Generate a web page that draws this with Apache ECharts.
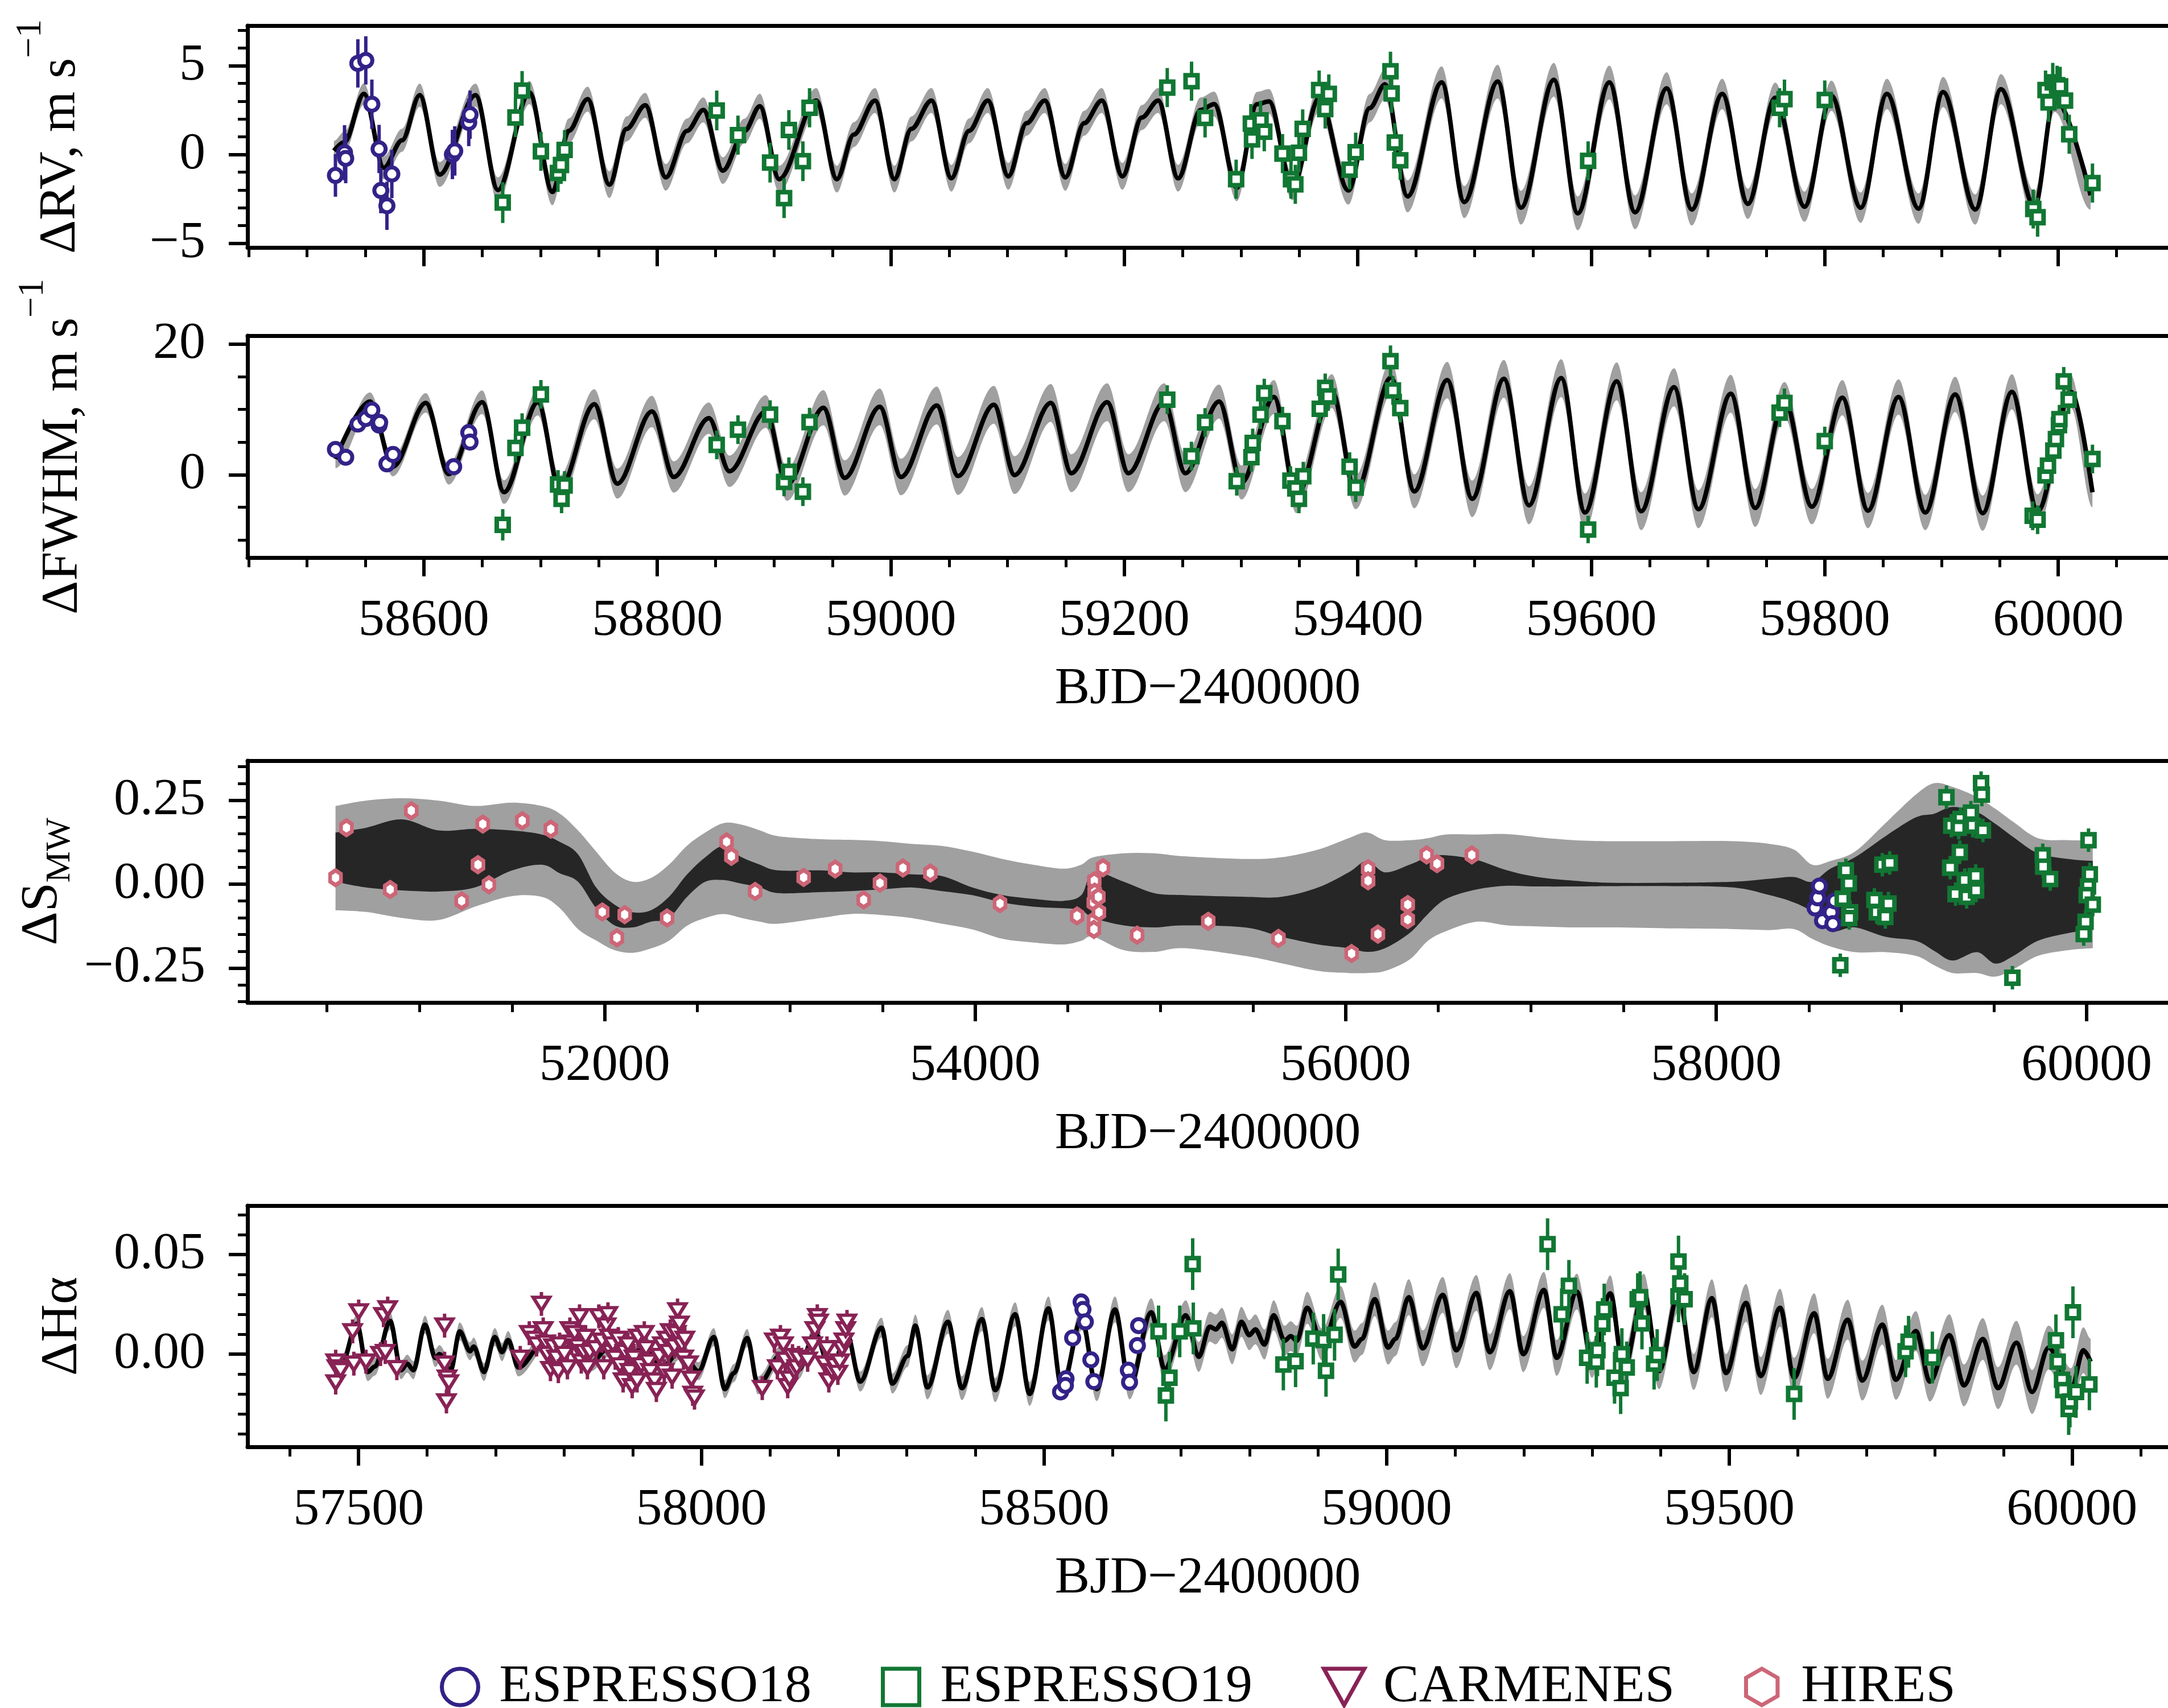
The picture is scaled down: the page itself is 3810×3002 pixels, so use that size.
<!DOCTYPE html>
<html>
<head>
<meta charset="utf-8">
<script src="https://cdn.jsdelivr.net/npm/echarts@6/dist/echarts.min.js"></script>
<style>
html, body { margin: 0; padding: 0; background: #fff; }
#chart { width: 3810px; height: 3002px; }
</style>
</head>
<body>
<div id="chart"></div>
<script>
// ---------- values ----------
// model curves: [BJD-2400000, mean, 1-sigma width of the grey band]
const rvModel = [[58523,0.21,0.55],[58532,0.69,0.6],[58548.7,3.41,0.6],[58565.8,-0.75,0.65],[58581.4,0.8,0.65],[58596.5,3.34,0.65],[58613.6,-1.13,0.7],[58644.3,3.34,0.65],[58663.5,-2.0,0.7],[58690.5,3.49,0.65],[58710.2,-2.11,0.75],[58724.2,1.33,0.7],[58740.3,3.12,0.7],[58759,-1.7,0.75],[58773.6,1.44,0.7],[58789.7,2.77,0.7],[58807.3,-1.29,0.75],[58825.5,1.33,0.7],[58839.5,2.51,0.7],[58856.1,-0.91,0.75],[58874.8,1.33,0.7],[58887.8,2.72,0.7],[58904.4,-1.39,0.75],[58936.1,3.04,0.7],[58953.8,-1.39,0.75],[58968.3,1.12,0.7],[58986.5,3.04,0.7],[59003.1,-1.39,0.75],[59017.6,1.44,0.7],[59034.8,3.04,0.7],[59051.9,-1.34,0.75],[59067,1.33,0.7],[59083.1,3.04,0.7],[59100.7,-1.23,0.75],[59116.3,1.76,0.7],[59131.9,3.04,0.7],[59149.5,-1.29,0.75],[59165.6,1.76,0.7],[59180.7,3.04,0.7],[59198.4,-1.23,0.75],[59215,2.08,0.7],[59229,3.04,0.7],[59246.1,-1.34,0.75],[59265.5,2.51,0.7],[59277,2.84,0.7],[59296.4,-1.88,0.75],[59313.6,2.83,0.7],[59324,2.99,0.7],[59343.9,-1.82,0.75],[59366.9,3.17,0.75],[59392,-2.03,0.8],[59410.2,2.61,0.8],[59423.3,3.95,0.85],[59442.6,-2.36,0.9],[59471.9,4.06,0.9],[59491.2,-2.68,0.9],[59519.9,4.11,0.95],[59539.8,-3.0,0.95],[59568,4.21,0.95],[59588.4,-3.32,0.95],[59615.5,4.06,0.95],[59637.5,-3.26,0.95],[59664.6,3.73,0.9],[59686.1,-3.1,0.9],[59712.2,3.41,0.85],[59734.1,-2.78,0.85],[59757.6,3.2,0.85],[59782.7,-2.94,0.85],[59805.7,3.31,0.85],[59830.8,-3.0,0.85],[59853.2,3.41,0.85],[59880.4,-3.05,0.85],[59901.3,3.52,0.85],[59929,-3.1,0.85],[59950.9,3.68,0.85],[59979.7,-2.94,0.85],[59996.9,3.2,0.8],[60027.7,-2.3,0.8]];

const fwModel = [[58524.3,2.4,1.4],[58553.9,11.2,1.4],[58573.6,1.25,1.5],[58601.7,11.0,1.5],[58621.4,0.09,1.6],[58650,11.1,1.8],[58668.7,-2.67,1.8],[58697.7,11.1,2.0],[58716.4,-2.24,2.1],[58746,10.8,2.3],[58765.8,-1.37,2.3],[58795.4,9.68,2.4],[58814.1,-0.35,2.4],[58844.2,8.66,2.4],[58861.8,0.52,2.4],[58893,9.68,2.5],[58911.2,-1.51,2.5],[58942.3,10.26,2.7],[58960.5,-0.49,2.7],[58990.6,10.4,2.8],[59008.8,-0.35,2.8],[59039.4,10.6,2.9],[59057.6,-0.2,2.9],[59088.3,10.7,2.9],[59106,-0.06,2.9],[59137.1,11.0,2.9],[59154.7,0.23,2.9],[59185.4,11.1,2.9],[59203.5,0.23,2.9],[59234.2,11.1,2.9],[59252.3,0.23,2.9],[59281.2,11.2,2.6],[59300.5,-1.2,2.6],[59328.2,11.9,2.6],[59347.5,-3.3,2.6],[59377.8,12.8,2.6],[59398.2,-2.7,2.6],[59428.5,14.9,2.6],[59448.4,-2.56,2.6],[59476.6,14.5,2.8],[59498,-3.7,2.8],[59525.2,14.7,2.9],[59546.6,-4.7,2.9],[59574.3,14.8,2.9],[59594.6,-5.8,2.9],[59621.8,14.3,2.9],[59642.7,-5.6,2.9],[59670.9,13.4,2.9],[59691.8,-5.3,2.9],[59719.5,12.4,2.9],[59740.4,-5.1,2.9],[59765.5,11.5,2.7],[59789,-4.9,2.7],[59815.1,11.8,2.7],[59837,-5.5,2.7],[59863.2,11.9,2.7],[59886.1,-5.8,2.7],[59911.7,12.3,2.7],[59935.3,-5.9,2.7],[59960.3,12.7,2.7],[59982.3,-5.6,2.6],[60011,12.7,2.5],[60029.3,-2.7,2.3]];

const haModel = [[57465,-0.0038,0.0045],[57475,-0.0057,0.0045],[57497.5,0.0152,0.0045],[57513.4,-0.009,0.0045],[57524,-0.0062,0.0045],[57546,0.0167,0.0045],[57562,-0.0081,0.0045],[57571,-0.0048,0.0045],[57580,-0.0081,0.0045],[57597,0.0148,0.0045],[57612,-0.002,0.0045],[57618,0.0,0.0045],[57634.4,-0.0081,0.0045],[57647.6,0.0114,0.0045],[57662.6,0.0014,0.0045],[57668,0.0038,0.0045],[57683,-0.009,0.0045],[57698.8,0.0086,0.0045],[57709.4,0.001,0.0045],[57718.2,0.0071,0.0045],[57733.2,-0.0067,0.0045],[57772,0.0067,0.0045],[57793,-0.0019,0.0045],[57815,0.0067,0.0045],[57840,-0.004,0.0045],[57864,0.003,0.0045],[57890,-0.0057,0.0045],[57917,0.0048,0.0045],[57943,-0.0067,0.0045],[57970,0.002,0.0045],[57996,-0.0086,0.0045],[58018.4,0.0086,0.0045],[58034.3,-0.0176,0.0045],[58047.5,-0.0095,0.0045],[58067,0.0081,0.0045],[58082.8,-0.0157,0.0045],[58117,0.0,0.0045],[58142,-0.008,0.0045],[58166,0.0105,0.0045],[58190,-0.009,0.0045],[58212,0.011,0.0045],[58232,-0.0138,0.005],[58263,0.0133,0.005],[58278.8,-0.0148,0.005],[58301,-0.001,0.0055],[58312.3,0.0143,0.0055],[58330,-0.0167,0.006],[58360,0.0162,0.006],[58380.3,-0.0171,0.006],[58409.5,0.0176,0.006],[58428.9,-0.0181,0.006],[58458,0.02,0.006],[58479.2,-0.02,0.006],[58506.6,0.0229,0.006],[58526,-0.0171,0.006],[58555,0.018,0.006],[58577.2,-0.0176,0.006],[58603.7,0.0224,0.0065],[58625,-0.0162,0.0065],[58656.6,0.021,0.007],[58676,-0.0076,0.007],[58707,0.0195,0.0075],[58725.9,-0.0014,0.0075],[58741.9,0.0138,0.0075],[58750.8,0.0124,0.0075],[58759.6,0.0157,0.0075],[58774.7,0.0024,0.0075],[58788,0.0162,0.0075],[58799.6,0.0095,0.0075],[58808.5,0.0124,0.0075],[58821.8,0.0048,0.0075],[58835.1,0.0195,0.0075],[58851.1,0.0067,0.0075],[58860,0.009,0.0075],[58868.9,0.0067,0.0075],[58884,0.0233,0.008],[58906,0.0048,0.008],[58932.8,0.0262,0.008],[58953.3,0.0038,0.008],[58964,0.0076,0.008],[58982.6,0.0276,0.0085],[59002.1,0.0033,0.0085],[59012.8,0.0076,0.0085],[59032.3,0.0286,0.009],[59052.7,0.0029,0.009],[59082,0.0297,0.009],[59101.6,0.0019,0.009],[59130.9,0.0307,0.009],[59150.4,0.001,0.009],[59179.8,0.0316,0.009],[59199.3,0.0,0.009],[59229.5,0.0322,0.009],[59248.1,-0.0019,0.009],[59277.5,0.0314,0.009],[59299.6,-0.0029,0.009],[59326.3,0.0305,0.009],[59345.8,-0.0076,0.009],[59375.2,0.0314,0.009],[59397.4,-0.0086,0.009],[59425.8,0.0305,0.009],[59448,-0.009,0.009],[59474.6,0.0281,0.0095],[59495.1,-0.0095,0.0095],[59524.4,0.0257,0.0095],[59545.7,-0.011,0.0095],[59574.1,0.0233,0.0095],[59594.5,-0.0119,0.01],[59623.9,0.0205,0.01],[59643.4,-0.0124,0.01],[59672.7,0.0173,0.01],[59694,-0.0133,0.01],[59723.3,0.0148,0.01],[59742.9,-0.0129,0.01],[59772.2,0.0116,0.01],[59792.6,-0.0138,0.01],[59821,0.0095,0.0105],[59842.3,-0.0157,0.0105],[59869.9,0.0076,0.0105],[59892.1,-0.0171,0.0105],[59918.8,0.0057,0.011],[59941.8,-0.019,0.011],[59965.8,0.0033,0.011],[59998.6,-0.0181,0.011],[60016.5,0.0019,0.0115],[60027.1,-0.0038,0.0115]];

// S_MW model is a dense oscillation: envelopes [BJD, greyLow, greyHigh, blackLow, blackHigh]
const smwEnv = [[50547,-0.078,0.233,0.007,0.154],[50711,-0.083,0.249,-0.01,0.168],[50907,-0.101,0.256,-0.019,0.193],[51103,-0.107,0.249,-0.022,0.16],[51300,-0.067,0.233,-0.01,0.165],[51496,-0.036,0.243,0.04,0.16],[51660,-0.038,0.233,0.058,0.148],[51758,-0.072,0.21,0.032,0.126],[51856,-0.134,0.16,0.007,0.089],[51954,-0.168,0.097,-0.072,-0.01],[52053,-0.197,0.035,-0.123,-0.061],[52151,-0.205,0.007,-0.129,-0.084],[52249,-0.192,0.018,-0.112,-0.078],[52347,-0.169,0.058,-0.101,-0.038],[52445,-0.124,0.115,-0.038,0.029],[52543,-0.101,0.154,0.007,0.08],[52642,-0.089,0.182,0.012,0.114],[52740,-0.101,0.177,0.001,0.08],[52838,-0.112,0.16,-0.01,0.058],[52936,-0.118,0.143,-0.027,0.041],[53165,-0.101,0.134,-0.024,0.041],[53329,-0.089,0.132,-0.021,0.035],[53493,-0.092,0.128,-0.016,0.035],[53656,-0.101,0.12,-0.01,0.029],[53820,-0.118,0.114,-0.021,0.024],[53984,-0.135,0.097,-0.033,-0.01],[54147,-0.163,0.075,-0.055,-0.033],[54311,-0.174,0.058,-0.067,-0.044],[54475,-0.18,0.046,-0.072,-0.05],[54573,-0.169,0.058,-0.078,-0.033],[54638,-0.157,0.08,-0.101,0.035],[54802,-0.197,0.092,-0.123,0.007],[54966,-0.202,0.092,-0.129,-0.027],[55129,-0.191,0.083,-0.123,-0.033],[55456,-0.214,0.075,-0.129,-0.038],[55653,-0.236,0.08,-0.157,-0.038],[55851,-0.259,0.103,-0.18,-0.01],[56016,-0.265,0.137,-0.191,0.035],[56115,-0.265,0.154,-0.202,0.069],[56213,-0.259,0.131,-0.191,0.035],[56345,-0.225,0.131,-0.146,0.058],[56444,-0.169,0.137,-0.089,0.08],[56543,-0.14,0.148,-0.044,0.086],[56707,-0.112,0.148,-0.016,0.072],[56872,-0.123,0.149,-0.005,0.041],[57036,-0.126,0.14,-0.007,0.021],[57234,-0.129,0.131,-0.007,0.01],[57432,-0.129,0.128,-0.006,0.004],[57761,-0.132,0.128,-0.006,0.004],[58090,-0.134,0.128,-0.01,0.007],[58288,-0.137,0.12,-0.033,0.016],[58420,-0.134,0.103,-0.055,0.021],[58518,-0.163,0.058,-0.084,0.007],[58617,-0.186,0.069,-0.14,0.046],[58749,-0.203,0.097,-0.129,0.08],[58914,-0.203,0.182,-0.157,0.143],[59078,-0.214,0.267,-0.169,0.199],[59177,-0.242,0.301,-0.199,0.21],[59276,-0.265,0.29,-0.228,0.23],[59407,-0.265,0.26,-0.203,0.215],[59506,-0.276,0.225,-0.237,0.18],[59605,-0.254,0.185,-0.214,0.14],[59737,-0.214,0.137,-0.169,0.092],[59901,-0.197,0.131,-0.146,0.075],[60033,-0.191,0.131,-0.135,0.069]];

// observations: [BJD-2400000, value, error]
const rvE18 = [[58524.3,-1.18,1.2],[58532.1,0.1,1.55],[58533.1,-0.22,1.4],[58543.5,5.13,1.36],[58550.3,5.3,1.36],[58555.5,2.83,1.39],[58561.7,0.31,1.36],[58563.2,-2.03,1.28],[58568.4,-2.89,1.36],[58572.6,-1.1,1.36],[58624.5,0.0,1.39],[58626.5,0.2,1.39],[58638.5,1.81,1.34],[58639.6,2.24,1.36]];
const rvE19 = [[58667.6,-2.71,1.15],[58678.5,2.08,1.1],[58684.2,3.6,1.1],[58700.3,0.18,1.1],[58714.9,-1.04,1.07],[58717.5,-0.59,1.07],[58720.6,0.26,1.12],[58850.9,2.48,1.12],[58869.1,1.09,1.1],[58896.6,-0.46,1.12],[58908.6,-2.46,1.12],[58912.7,1.38,1.12],[58924.7,-0.38,1.12],[58930.4,2.63,1.1],[59236.8,3.77,1.1],[59257.6,4.13,1.1],[59269.2,2.06,1.1],[59295.8,-1.39,1.1],[59308.4,1.74,1.1],[59309.4,0.85,1.1],[59316.7,1.92,1.1],[59319.9,1.28,1.1],[59335.5,0.05,1.1],[59342.8,-1.39,1.1],[59346.5,-1.68,1.1],[59349.6,0.1,1.1],[59352.8,1.44,1.1],[59366.9,3.63,1.1],[59372.1,2.56,1.1],[59375.2,3.41,1.1],[59393,-0.86,1.1],[59398.2,0.13,1.1],[59428,4.69,1.1],[59429,3.44,1.1],[59431.7,0.67,1.1],[59436.4,-0.33,1.1],[59597.3,-0.36,1.1],[59761.3,2.63,1.1],[59765.5,3.12,1.1],[59800,3.07,1.1],[59978.6,-3.07,1.1],[59982.3,-3.53,1.1],[59989.1,3.63,1.1],[59991.7,2.93,1.1],[59995.3,4.06,1.1],[59999,3.9,1.1],[60001.6,3.84,1.1],[60005.8,3.04,1.1],[60009.4,1.14,1.1],[60029.3,-1.61,1.1]];

const fwE18 = [[58524.3,3.87,1.2],[58533.1,2.67,1.2],[58543.5,7.76,1.2],[58550.3,8.6,1.2],[58555.5,9.9,1.2],[58561.7,7.6,1.2],[58562.2,8.0,1.2],[58568.4,1.66,1.2],[58573.6,3.1,1.2],[58625.6,1.22,1.2],[58638.5,6.45,1.2],[58639.6,5.0,1.2]];
const fwE19 = [[58667.6,-7.68,2.4],[58678.5,4.1,2.2],[58684.2,7.2,2.2],[58700.3,12.3,2.2],[58715,-1.5,2.2],[58718,-3.7,2.2],[58720.6,-1.66,2.2],[58850.9,4.57,2.2],[58869.1,6.9,2.2],[58896.6,9.2,2.2],[58908.6,-1.1,2.2],[58912.7,0.44,2.2],[58924.7,-2.6,2.2],[58930.4,8.05,2.2],[59236.8,11.5,2.2],[59257.5,2.85,2.2],[59269.2,8.0,2.2],[59296.3,-1.0,2.2],[59308.9,2.68,2.2],[59310,4.86,2.2],[59316.7,9.2,2.2],[59319.9,12.5,2.2],[59335.5,8.2,2.2],[59342.3,-0.9,2.2],[59346.5,-2.1,2.2],[59349.6,-3.7,2.2],[59353.3,-0.23,2.2],[59367.4,10.1,2.2],[59372.1,13.3,2.2],[59374.7,12.0,2.2],[59393,1.23,2.2],[59398.2,-1.98,2.2],[59428,17.4,2.4],[59430.1,12.9,2.2],[59436.4,10.2,2.2],[59597.3,-8.4,2.1],[59761.3,9.5,2.2],[59765.5,11.0,2.2],[59800,5.15,2.2],[59978.1,-6.3,2.2],[59982.3,-6.9,2.2],[59989.1,-0.1,2.2],[59991.2,1.37,2.2],[59995.8,3.7,2.2],[59998,5.45,2.2],[60000.6,7.6,2.2],[60001,8.5,2.2],[60004.7,14.3,2.2],[60008.9,11.5,2.2],[60029.3,2.4,2.2]];

const smwHires = [[50547,0.019,0.025],[50606,0.168,0.025],[50842,-0.016,0.025],[50956,0.219,0.025],[51228,-0.05,0.025],[51316,0.058,0.025],[51342,0.179,0.025],[51375,-0.002,0.025],[51555,0.189,0.025],[51709,0.164,0.025],[51987,-0.083,0.025],[52066,-0.16,0.025],[52108,-0.091,0.025],[52337,-0.101,0.025],[52658,0.126,0.025],[52684,0.083,0.025],[52812,-0.022,0.025],[53074,0.02,0.025],[53244,0.045,0.025],[53398,-0.047,0.025],[53486,0.003,0.025],[53610,0.048,0.025],[53758,0.033,0.025],[54134,-0.058,0.025],[54550,-0.095,0.025],[54643,0.01,0.025],[54645,-0.024,0.025],[54640,-0.055,0.025],[54642,-0.109,0.025],[54641,-0.135,0.025],[54668,-0.084,0.025],[54690,0.049,0.025],[54665,-0.038,0.025],[54874,-0.152,0.025],[55258,-0.111,0.025],[55637,-0.162,0.025],[56032,-0.207,0.025],[56121,0.046,0.025],[56121,0.01,0.025],[56174,-0.149,0.025],[56335,-0.061,0.025],[56335,-0.106,0.025],[56437,0.087,0.025],[56493,0.061,0.025],[56681,0.087,0.025]];
const smwE18 = [[58534,-0.071,0.008],[58548,-0.041,0.008],[58557,-0.006,0.008],[58574,-0.109,0.008],[58620,-0.084,0.008],[58630,-0.118,0.008],[58640,-0.05,0.008]];
const smwE19 = [[58670,-0.242,0.035],[58683,-0.044,0.035],[58700,0.041,0.035],[58716,0.002,0.035],[58723,-0.084,0.035],[58718,-0.101,0.035],[58854,-0.047,0.035],[58867,-0.084,0.035],[58897,0.058,0.035],[58913,-0.098,0.035],[58930,-0.058,0.035],[58937,0.063,0.035],[59243,0.259,0.035],[59269,0.174,0.035],[59315,0.095,0.035],[59319,0.194,0.035],[59309,0.168,0.035],[59263,0.049,0.035],[59292,-0.03,0.035],[59342,0.012,0.035],[59352,-0.038,0.035],[59375,0.213,0.035],[59385,0.174,0.035],[59401,0.024,0.035],[59403,-0.019,0.035],[59430,0.301,0.035],[59434,0.267,0.035],[59440,0.16,0.035],[59599,-0.279,0.035],[59763,0.086,0.035],[59765,0.052,0.035],[59803,0.015,0.035],[60010,0.131,0.035],[60017,0.029,0.035],[60007,-0.007,0.035],[60000,-0.033,0.035],[59994,-0.112,0.035],[59984,-0.149,0.035],[60033,-0.061,0.035]];

const haCarm = [[57466.6,-0.0038,0.006],[57468.4,-0.0067,0.006],[57466.6,-0.0143,0.006],[57473.7,-0.0081,0.006],[57491.3,0.0114,0.006],[57493.1,-0.0048,0.006],[57500.2,0.0214,0.006],[57510.8,-0.0038,0.006],[57532,0.0,0.006],[57536.4,0.0195,0.006],[57542.5,0.0229,0.006],[57539,0.001,0.006],[57555.8,-0.0071,0.006],[57625.5,0.0143,0.006],[57625.5,-0.0048,0.006],[57629.1,-0.0119,0.006],[57631.7,-0.0143,0.006],[57628.2,-0.0238,0.006],[57735.9,-0.0019,0.006],[57749.1,0.0105,0.006],[57756.2,0.0076,0.006],[57759.7,0.0048,0.006],[57766.8,0.0252,0.006],[57769.4,0.0124,0.006],[57773,0.0057,0.006],[57775.6,0.0,0.006],[57780,-0.0076,0.006],[57784.4,0.0038,0.006],[57788.8,-0.0019,0.006],[57791.5,-0.0086,0.006],[57793.3,0.0048,0.006],[57800.3,0.0,0.006],[57804.7,-0.0067,0.006],[57808.3,0.0124,0.006],[57810.9,0.0057,0.006],[57815.3,0.0105,0.006],[57819.7,0.0038,0.006],[57822.4,0.019,0.006],[57825,-0.0038,0.006],[57828.6,0.001,0.006],[57831.2,0.0086,0.006],[57833.9,-0.0067,0.006],[57837.4,0.001,0.006],[57846.2,0.0029,0.006],[57850.6,0.019,0.006],[57855.1,0.0067,0.006],[57857.7,-0.0067,0.006],[57861.2,0.0143,0.006],[57863.9,0.02,0.006],[57865.7,0.0086,0.006],[57868.3,0.001,0.006],[57871,0.0048,0.006],[57874.5,-0.0019,0.006],[57878.9,0.0076,0.006],[57881.5,-0.0057,0.006],[57886,-0.0133,0.006],[57888.6,0.001,0.006],[57893,0.0048,0.006],[57895.7,-0.0086,0.006],[57899.2,-0.0162,0.006],[57901.9,-0.0019,0.006],[57906.3,-0.0133,0.006],[57908,0.0086,0.006],[57912.4,-0.0057,0.006],[57916.9,0.0105,0.006],[57919.5,0.0029,0.006],[57923,-0.0038,0.006],[57925.7,-0.0086,0.006],[57931.9,-0.0133,0.006],[57934.5,-0.0181,0.006],[57939,-0.001,0.006],[57943.3,0.0048,0.006],[57946,-0.0086,0.006],[57949.5,0.0076,0.006],[57952.2,0.001,0.006],[57954.8,0.0114,0.006],[57957.5,-0.0114,0.006],[57961,0.0038,0.006],[57963.6,0.0105,0.006],[57965.4,0.0219,0.006],[57968.1,0.0152,0.006],[57971.6,0.0048,0.006],[57974.2,-0.0019,0.006],[57976,0.0076,0.006],[57981.3,-0.0048,0.006],[57985.7,-0.0124,0.006],[57987.5,-0.02,0.006],[57990.1,-0.0219,0.006],[58089,-0.0171,0.006],[58106.7,0.0067,0.006],[58111.1,-0.0067,0.006],[58115.5,0.0086,0.006],[58119.9,0.0048,0.006],[58122.6,-0.0029,0.006],[58126.1,-0.0162,0.006],[58128.7,-0.0124,0.006],[58133.1,-0.001,0.006],[58135.8,-0.0086,0.006],[58139.3,-0.0067,0.006],[58142,-0.0019,0.006],[58155.2,-0.0029,0.006],[58162.3,0.0048,0.006],[58165.8,0.0124,0.006],[58169.3,0.019,0.006],[58171.1,0.0162,0.006],[58180,-0.0048,0.006],[58183.4,0.0029,0.006],[58186.1,-0.0133,0.006],[58190.5,-0.0086,0.006],[58194.9,-0.0057,0.006],[58199.3,-0.0095,0.006],[58202,-0.0038,0.006],[58205.5,0.0029,0.006],[58208.2,0.0067,0.006],[58210.8,0.0124,0.006],[58212.6,0.0162,0.006]];
const haE18 = [[58524.2,-0.019,0.002],[58532.2,-0.0124,0.002],[58531.3,-0.0157,0.002],[58541.9,0.0081,0.002],[58554.2,0.0262,0.002],[58556.9,0.0224,0.002],[58560.4,0.0162,0.002],[58568.4,-0.0029,0.002],[58572.8,-0.0138,0.002],[58623.1,-0.0081,0.002],[58624.9,-0.0141,0.002],[58636.3,0.0043,0.002],[58638.1,0.0143,0.002]];
const haE19 = [[58667.2,0.0114,0.013],[58677.9,-0.0208,0.013],[58683.1,-0.0119,0.013],[58698.1,0.0114,0.013],[58717,0.0452,0.013],[58717.9,0.0129,0.013],[58849.3,-0.0052,0.013],[58867.1,-0.0036,0.013],[58892.9,0.0078,0.013],[58908,0.0071,0.013],[58911.5,-0.0084,0.013],[58924,0.0097,0.013],[58929.3,0.04,0.013],[59234.8,0.0552,0.013],[59255.3,0.02,0.013],[59265.9,0.0343,0.013],[59292.5,-0.0019,0.013],[59305.9,-0.0038,0.013],[59307.6,0.0019,0.013],[59314.8,0.0152,0.013],[59317.4,0.0224,0.013],[59332.5,-0.0119,0.013],[59341.4,-0.0171,0.013],[59343.2,0.0,0.013],[59350.3,-0.0067,0.013],[59366.3,0.0276,0.013],[59369.8,0.0286,0.013],[59372.5,0.0154,0.013],[59390.2,-0.0048,0.013],[59394.7,-0.0005,0.013],[59425.8,0.0465,0.013],[59428.4,0.0355,0.013],[59425.8,0.029,0.013],[59434.7,0.0276,0.013],[59594.5,-0.02,0.013],[59757.1,0.0014,0.013],[59761.5,0.0062,0.013],[59796.2,-0.0017,0.013],[59976.5,0.0069,0.013],[59979.1,-0.0038,0.013],[59985.4,-0.0129,0.013],[59987.1,-0.0181,0.013],[59995.1,-0.0276,0.013],[59996.9,-0.0238,0.013],[60001.3,0.021,0.013],[60005.8,-0.019,0.013],[60025.3,-0.0152,0.013]];

// axis ranges and tick labels
const xRangeAB = [58449, 60094], xRangeC = [50072, 60439], xRangeD = [57338, 60140];
const xTicksAB = [58600, 58800, 59000, 59200, 59400, 59600, 59800, 60000];
const xTicksC = [52000, 54000, 56000, 58000, 60000];
const xTicksD = [57500, 58000, 58500, 59000, 59500, 60000];
const rvRange = [-5.24, 7.26], fwRange = [-12.7, 21.3], smwRange = [-0.353, 0.368], haRange = [-0.0466, 0.0746];
const rvTicks = [-5, 0, 5], fwTicks = [0, 20], smwTicks = [-0.25, 0, 0.25], haTicks = [0, 0.05];

// ---------- styling ----------
const FONT = 'Liberation Serif';
const C18 = '#332288', C19 = '#117733', CCARM = '#882255', CHIRES = '#CC6677', CBAND = '#a0a0a0';
const SQR = 'path://M0,0L10,0L10,10L0,10Z';
const TRI = 'path://M0,0L10,0L5,9Z';
const HEX = 'path://M5,0L9.33,2.5L9.33,7.5L5,10L0.67,7.5L0.67,2.5Z';
const SPINE = 7;

function steps(min, max, step) {
  const out = [];
  for (let k = Math.ceil(min / step - 1e-9); k * step <= max + 1e-9; k++) out.push(+(k * step).toFixed(6));
  return out;
}
const minus = s => s.replace('-', '\u2212');

function xAxes(g, range, major, minorStep, labels) {
  const base = { type: 'value', gridIndex: g, min: range[0], max: range[1], splitLine: { show: false }, z: 10 };
  return [
    Object.assign({}, base, {
      position: 'bottom',
      axisLine: { show: true, onZero: false, lineStyle: { color: '#000', width: SPINE } },
      axisTick: { show: true, customValues: major, length: 33, lineStyle: { color: '#000', width: 6 } },
      axisLabel: { show: labels, customValues: major, margin: 66, fontFamily: FONT, fontSize: 92, color: '#000',
        formatter: v => String(Math.round(v)) },
      name: labels ? 'BJD\u22122400000' : '', nameLocation: 'middle', nameGap: 186,
      nameTextStyle: { fontFamily: FONT, fontSize: 92, color: '#000' }
    }),
    Object.assign({}, base, {
      position: 'bottom', axisLine: { show: false, onZero: false },
      axisTick: { show: true, customValues: steps(range[0], range[1], minorStep), length: 17, lineStyle: { color: '#000', width: 5 } },
      axisLabel: { show: false }
    }),
    Object.assign({}, base, {
      position: 'top', axisLine: { show: true, onZero: false, lineStyle: { color: '#000', width: SPINE } },
      axisTick: { show: false }, axisLabel: { show: false }
    })
  ];
}

function yAxes(g, range, major, minorStep, fmt, name, gap, rich) {
  const base = { type: 'value', gridIndex: g, min: range[0], max: range[1], position: 'left', splitLine: { show: false }, z: 10 };
  return [
    Object.assign({}, base, {
      axisLine: { show: true, onZero: false, lineStyle: { color: '#000', width: SPINE } },
      axisTick: { show: true, customValues: major, length: 33, lineStyle: { color: '#000', width: 6 } },
      axisLabel: { customValues: major, margin: 74, fontFamily: FONT, fontSize: 92, color: '#000', formatter: fmt },
      name: name, nameLocation: 'middle', nameRotate: 90, nameGap: gap,
      nameTextStyle: { fontFamily: FONT, fontSize: 92, color: '#000', rich: rich || {} }
    }),
    Object.assign({}, base, {
      axisLine: { show: false, onZero: false },
      axisTick: { show: true, customValues: steps(range[0], range[1], minorStep), length: 17, lineStyle: { color: '#000', width: 5 } },
      axisLabel: { show: false }
    })
  ];
}

// cubic segments through pixel points: 'flat' = horizontal tangents (as the line's smoothMonotone 'x'),
// otherwise Catmull-Rom
function curveTo(p, mode) {
  let d = '';
  for (let i = 0; i < p.length - 1; i++) {
    const a = p[i], b = p[i + 1];
    let c1, c2;
    if (mode === 'flat') {
      const dx = (b[0] - a[0]) * 0.33;
      c1 = [a[0] + dx, a[1]]; c2 = [b[0] - dx, b[1]];
    } else {
      const p0 = p[Math.max(i - 1, 0)], p3 = p[Math.min(i + 2, p.length - 1)];
      c1 = [a[0] + (b[0] - p0[0]) / 6, a[1] + (b[1] - p0[1]) / 6];
      c2 = [b[0] - (p3[0] - a[0]) / 6, b[1] - (p3[1] - a[1]) / 6];
    }
    d += 'C' + c1.join(',') + ' ' + c2.join(',') + ' ' + b.join(',');
  }
  return d;
}

// filled band between two curves; rows are [t, low, high], positioned with api.coord
function bandSeries(g, rows, color, opacity, z, mode) {
  return {
    type: 'custom', xAxisIndex: 3 * g, yAxisIndex: 2 * g, data: rows, encode: { x: 0, y: [1, 2] },
    silent: true, animation: false, clip: true, z: z,
    renderItem: (params, api) => {
      if (params.dataIndex !== 0) return null;
      const up = rows.map(r => api.coord([r[0], r[2]]));
      const lo = rows.map(r => api.coord([r[0], r[1]])).reverse();
      const d = 'M' + up[0].join(',') + curveTo(up, mode) + 'L' + lo[0].join(',') + curveTo(lo, mode) + 'Z';
      return { type: 'path', shape: { pathData: d }, style: { fill: color, opacity: opacity } };
    }
  };
}

function modelSeries(g, curve) {
  return [
    bandSeries(g, curve.map(p => [p[0], p[1] - p[2], p[1] + p[2]]), CBAND, 1, 1, 'flat'),
    { type: 'line', xAxisIndex: 3 * g, yAxisIndex: 2 * g, symbol: 'none', silent: true, animation: false,
      smooth: 0.33, smoothMonotone: 'x', z: 3, data: curve.map(p => [p[0], p[1]]),
      lineStyle: { color: '#000', width: 8 } }
  ];
}

function renderErr(params, api) {
  const x = api.value(0), y = api.value(1), e = api.value(2);
  const a = api.coord([x, y - e]), b = api.coord([x, y + e]);
  return { type: 'line', shape: { x1: a[0], y1: a[1], x2: b[0], y2: b[1] },
    style: { stroke: api.visual('color'), lineWidth: 6 } };
}

function obsSeries(g, name, pts, color, symbol, size, bw) {
  return [
    { type: 'custom', name: name, xAxisIndex: 3 * g, yAxisIndex: 2 * g, data: pts, encode: { x: 0, y: 1 },
      itemStyle: { color: color }, renderItem: renderErr, z: 5, silent: true, animation: false },
    { type: 'scatter', name: name, xAxisIndex: 3 * g, yAxisIndex: 2 * g, data: pts.map(p => [p[0], p[1]]),
      symbol: symbol, symbolSize: size, symbolKeepAspect: true,
      itemStyle: { color: '#fff', borderColor: color, borderWidth: bw, opacity: 1 }, z: 6, silent: true, animation: false }
  ];
}

const option = {
  animation: false,
  backgroundColor: '#fff',
  textStyle: { fontFamily: FONT },
  grid: [
    { left: 435, right: 0, top: 45, height: 390, outerBoundsMode: 'none' },
    { left: 435, right: 0, top: 590, height: 390, outerBoundsMode: 'none' },
    { left: 435, right: 0, top: 1337, height: 425, outerBoundsMode: 'none' },
    { left: 435, right: 0, top: 2119, height: 424, outerBoundsMode: 'none' }
  ],
  xAxis: [].concat(
    xAxes(0, xRangeAB, xTicksAB, 50, false),
    xAxes(1, xRangeAB, xTicksAB, 50, true),
    xAxes(2, xRangeC, xTicksC, 500, true),
    xAxes(3, xRangeD, xTicksD, 100, true)
  ),
  yAxis: [].concat(
    yAxes(0, rvRange, rvTicks, 1, v => minus(String(v)),
      '{m|\u0394RV, m s}{s|\u22121}', 243,
      { m: { fontFamily: FONT, fontSize: 92, lineHeight: 170 }, s: { fontFamily: FONT, fontSize: 64, verticalAlign: 'top' } }),
    yAxes(1, fwRange, fwTicks, 5, v => minus(String(v)),
      '{m|\u0394FWHM, m s}{s|\u22121}', 239,
      { m: { fontFamily: FONT, fontSize: 92, lineHeight: 170 }, s: { fontFamily: FONT, fontSize: 64, verticalAlign: 'top' } }),
    yAxes(2, smwRange, smwTicks, 0.05, v => minus(v.toFixed(2)),
      '{m|\u0394S}{b|MW}', 268,
      { m: { fontFamily: FONT, fontSize: 92, lineHeight: 124 }, b: { fontFamily: FONT, fontSize: 62, verticalAlign: 'bottom' } }),
    yAxes(3, haRange, haTicks, 0.01, v => minus(v.toFixed(2)), '\u0394H\u03b1', 279)
  ),
  legend: {
    left: 768, top: 2913, itemWidth: 128, itemHeight: 64, itemGap: 122, selectedMode: false,
    textStyle: { fontFamily: FONT, fontSize: 94, color: '#000' },
    data: [
      { name: 'ESPRESSO18', icon: 'circle', itemStyle: { color: '#fff', borderColor: C18, borderWidth: 7 } },
      { name: 'ESPRESSO19', icon: SQR, itemStyle: { color: '#fff', borderColor: C19, borderWidth: 7 } },
      { name: 'CARMENES', icon: TRI, itemStyle: { color: '#fff', borderColor: CCARM, borderWidth: 7 } },
      { name: 'HIRES', icon: HEX, itemStyle: { color: '#fff', borderColor: CHIRES, borderWidth: 7 } }
    ]
  },
  series: [].concat(
    modelSeries(0, rvModel),
    obsSeries(0, 'ESPRESSO18', rvE18, C18, 'circle', 23, 7),
    obsSeries(0, 'ESPRESSO19', rvE19, C19, SQR, 21, 8),
    modelSeries(1, fwModel),
    obsSeries(1, 'ESPRESSO18', fwE18, C18, 'circle', 23, 7),
    obsSeries(1, 'ESPRESSO19', fwE19, C19, SQR, 21, 8),
    bandSeries(2, smwEnv.map(r => [r[0], r[1], r[2]]), CBAND, 1, 1, 'cr'),
    bandSeries(2, smwEnv.map(r => [r[0], r[3], r[4]]), '#000', 0.76, 2, 'cr'),
    obsSeries(2, 'HIRES', smwHires, CHIRES, HEX, [22, 26], 7),
    obsSeries(2, 'ESPRESSO18', smwE18, C18, 'circle', 23, 7),
    obsSeries(2, 'ESPRESSO19', smwE19, C19, SQR, 21, 8),
    modelSeries(3, haModel),
    obsSeries(3, 'CARMENES', haCarm, CCARM, TRI, [29, 26], 6),
    obsSeries(3, 'ESPRESSO18', haE18, C18, 'circle', 23, 7),
    obsSeries(3, 'ESPRESSO19', haE19, C19, SQR, 21, 8)
  )
};

const chart = echarts.init(document.getElementById('chart'), null, { renderer: 'canvas' });
chart.setOption(option);
</script>
</body>
</html>
